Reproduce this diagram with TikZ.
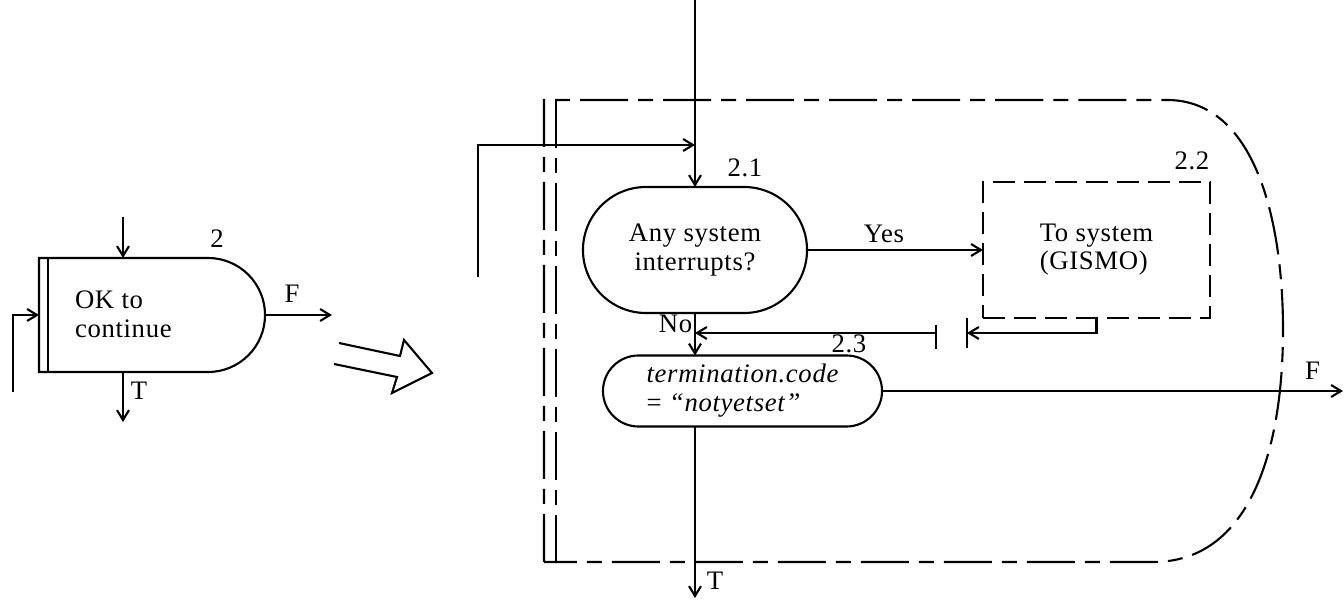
\documentclass[tikz,border=0pt]{standalone}
\usepackage{fontspec}
\setmainfont{Liberation Serif}[LetterSpace=2.5]
\usetikzlibrary{arrows.meta,shapes.misc,calc}
\begin{document}
\begin{tikzpicture}[x=0.025cm,y=-0.025cm,
  line width=1.5pt,
  every node/.style={font=\fontsize{19pt}{20.6pt}\selectfont, inner sep=0pt, outer sep=0pt},
  arr/.style={-{Straight Barb[length=7pt,width=8.5pt,line width=1.5pt]}},
  stad/.style={draw, rounded rectangle, align=left},
  bound/.style={dash pattern=on 1.2cm off 0.25cm on 0.375cm off 0.25cm},
  dbox/.style={draw, rectangle, align=left, dash pattern=on 0.55cm off 0.225cm},
  lbl/.style={anchor=base}]
\useasboundingbox (0,0) rectangle (1344,602);

% ---------- left block ----------
\node[draw, rounded rectangle, rounded rectangle west arc=none,
      minimum width=5.65cm, minimum height=2.85cm] (lbox) at (152,315) {};
\draw ($(lbox.north west)+(9,0)$) -- ($(lbox.south west)+(9,0)$);
\node[anchor=west, align=left] (oktext) at (75,314) {OK to\\continue};
\node[lbl] (l2) at (217,248) {2};
\coordinate (ltop) at (123,217);
\coordinate (lbot) at (123,422);
\coordinate (lin) at (13,392);
\coordinate (lf) at (332,315);
\draw[arr] (ltop) -- (ltop |- lbox.north);
\draw[arr] (ltop |- lbox.south) -- (lbot);
\draw[arr] (lin) |- (lbox.west);
\draw[arr] (lbox.east) -- (lf);
\node[lbl] (lF) at (292,303) {F};
\node[lbl] (lT) at (139,400) {T};

% ---------- hollow arrow ----------
\draw[line join=miter] (339,343) -- (400,356) -- (404,340) -- (432,373) -- (392,393) -- (397,377) -- (334,364);

% ---------- outer dashed boundary ----------
\draw[bound] (544,562) -- (544,100) -- (1167,100)
  .. controls (1255,100) and (1283,220) .. (1283,330)
  .. controls (1283,450) and (1250,562) .. (1153,562) -- cycle;
\draw[bound] (556,100) -- (556,562);

% ---------- 2.1 ----------
\node[stad, align=center, minimum width=5.6cm, minimum height=3.15cm] (n21) at (695,250)
  {Any system\\interrupts?};
\node[lbl] (l21) at (745,177) {2.1};
\coordinate (topin) at (695,0);
\draw[arr] (topin) -- (n21.north);
\coordinate (ent) at (478,277);
\coordinate (y145) at (0,145);
\draw[arr] (ent) |- (n21.north |- y145);

% ---------- 2.2 ----------
\node[dbox, minimum width=5.675cm, minimum height=3.4cm] (n22) at (1096.5,250)
  {\raisebox{-6pt}{\begin{tabular}{@{}l@{}}To system\\[-0.8pt](GISMO)\end{tabular}}};
\node[lbl] (l22) at (1192,170) {2.2};
\draw[arr] (n21.east) -- (n22.west);
\node[lbl] (lyes) at (884,243) {Yes};

% ---------- return path ----------
\coordinate (bar2) at (967,333);
\coordinate (bar1) at (936,333);
\draw[arr] (n22.south) |- (bar2);
\draw ($(bar2)+(0,-15)$) -- ($(bar2)+(0,15)$);
\draw ($(bar1)+(0,-8)$) -- ($(bar1)+(0,16)$);
\draw[arr] (bar1) -- (bar1 -| n21.south);

% ---------- 2.3 ----------
\node[stad, minimum width=6.975cm, minimum height=1.775cm] (n23) at (742.5,391)
  {\itshape termination.code\\= {\itshape ``notyetset''}};
\node[lbl] (l23) at (849,353) {2.3};
\draw[arr] (n21.south) -- (n21.south |- n23.north);
\node[lbl] (lno) at (675.5,333) {No};
\coordinate (fend) at (1343,391);
\draw[arr] (n23.east) -- (fend);
\node[lbl] (lF2) at (1312.5,380) {F};
\coordinate (tend) at (695,598);
\draw[arr] (n21.south |- n23.south) -- (tend);
\node[lbl] (lT2) at (715,590) {T};
\end{tikzpicture}
\end{document}
